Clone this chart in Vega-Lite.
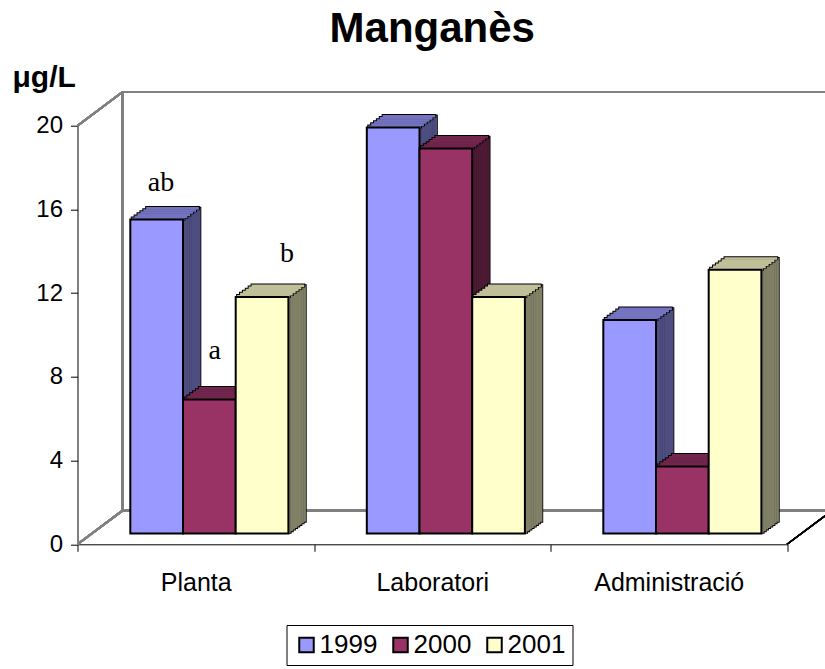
{
  "$schema": "https://vega.github.io/schema/vega-lite/v6.json",
  "width": 709.5,
  "height": 418.6,
  "autosize": {"type": "none"},
  "padding": {"left": 77.5, "top": 125.7, "right": 38, "bottom": 124.7},
  "background": "white",
  "title": {"text": "Manganès", "font": "Liberation Sans", "fontSize": 42, "fontWeight": "bold", "color": "black", "anchor": "middle", "dy": -8},
  "config": {"view": {"stroke": null}},
  "data": {"values": [
    {"zone": "Planta", "year": "1999", "value": 15.0, "label": "ab"},
    {"zone": "Planta", "year": "2000", "value": 6.4, "label": "a"},
    {"zone": "Planta", "year": "2001", "value": 11.3, "label": "b"},
    {"zone": "Laboratori", "year": "1999", "value": 19.4, "label": ""},
    {"zone": "Laboratori", "year": "2000", "value": 18.4, "label": ""},
    {"zone": "Laboratori", "year": "2001", "value": 11.3, "label": ""},
    {"zone": "Administració", "year": "1999", "value": 10.2, "label": ""},
    {"zone": "Administració", "year": "2000", "value": 3.2, "label": ""},
    {"zone": "Administració", "year": "2001", "value": 12.6, "label": ""}
  ]},
  "resolve": {"scale": {"color": "independent", "xOffset": "independent"}},
  "layer": [
    {"mark": {"type": "rule", "color": "#808080", "strokeWidth": 2, "xOffset": 45, "x2Offset": 38.5, "yOffset": -33.7, "y2Offset": -33.7}, "encoding": {"x": {"datum": "Planta", "type": "nominal", "bandPosition": 0}, "x2": {"datum": "Administració", "bandPosition": 1}, "y": {"datum": 20, "type": "quantitative"}, "y2": {"datum": 20}}},
    {"mark": {"type": "rule", "color": "#808080", "strokeWidth": 2, "xOffset": 45, "x2Offset": 38.5, "yOffset": -33.7, "y2Offset": -33.7}, "encoding": {"x": {"datum": "Planta", "type": "nominal", "bandPosition": 0}, "x2": {"datum": "Administració", "bandPosition": 1}, "y": {"datum": 0, "type": "quantitative"}, "y2": {"datum": 0}}},
    {"mark": {"type": "rule", "color": "#808080", "strokeWidth": 2, "xOffset": 45, "yOffset": -33.7, "y2Offset": -33.7}, "encoding": {"x": {"datum": "Planta", "type": "nominal", "bandPosition": 0}, "y": {"datum": 0, "type": "quantitative"}, "y2": {"datum": 20}}},
    {"mark": {"type": "rule", "color": "#808080", "strokeWidth": 2, "x2Offset": 45, "y2Offset": -33.7}, "encoding": {"x": {"datum": "Planta", "type": "nominal", "bandPosition": 0}, "x2": {"datum": "Planta", "bandPosition": 0}, "y": {"datum": 20, "type": "quantitative"}, "y2": {"datum": 20}}},
    {"mark": {"type": "rule", "color": "#808080", "strokeWidth": 2, "x2Offset": 45, "y2Offset": -33.7}, "encoding": {"x": {"datum": "Planta", "type": "nominal", "bandPosition": 0}, "x2": {"datum": "Planta", "bandPosition": 0}, "y": {"datum": 0, "type": "quantitative"}, "y2": {"datum": 0}}},
    {"mark": {"type": "rule", "color": "black", "strokeWidth": 1.3, "x2Offset": 45, "y2Offset": -33.7}, "encoding": {"x": {"datum": "Administració", "type": "nominal", "bandPosition": 1}, "x2": {"datum": "Administració", "bandPosition": 1}, "y": {"datum": 0, "type": "quantitative"}, "y2": {"datum": 0}}},
    {
      "encoding": {
        "x": {"field": "zone", "type": "nominal", "scale": {"domain": ["Planta", "Laboratori", "Administració"], "paddingInner": 0, "paddingOuter": 0},
              "axis": {"title": null, "labelAngle": 0, "labelAlign": "center", "tickBand": "extent", "tickSize": 7, "tickColor": "black", "domainColor": "black", "labelFont": "Liberation Sans", "labelFontSize": 25, "labelColor": "black", "labelBaseline": "alphabetic", "labelPadding": 38.7}},
        "y": {"field": "value", "type": "quantitative", "scale": {"domain": [0, 20], "nice": false},
              "axis": {"title": "μg/L", "titleAngle": 0, "titleAlign": "left", "titleBaseline": "alphabetic", "titleX": -65.5, "titleY": -39, "titleFont": "Liberation Sans", "titleFontSize": 30, "titleFontWeight": "bold", "titleColor": "black", "values": [0, 4, 8, 12, 16, 20], "grid": false, "domainColor": "black", "tickColor": "black", "tickSize": 7, "labelFont": "Liberation Sans", "labelFontSize": 24, "labelColor": "black", "labelPadding": 8}}
      },
      "resolve": {"scale": {"color": "independent", "xOffset": "independent"}},
      "layer": [
        {"encoding": {"y2": {"datum": 0}}, "resolve": {"scale": {"xOffset": "independent"}}, "layer": [
          {"mark": {"type": "bar", "color": "black", "width": 4.2, "yOffset": -12.58, "y2Offset": -10.58}, "encoding": {"xOffset": {"field": "year", "type": "nominal", "scale": {"domain": ["1999", "2000", "2001"], "paddingInner": 0, "paddingOuter": 0.744, "range": [41.03, 277.53]}}}},
          {"mark": {"type": "bar", "color": "black", "width": 4.2, "yOffset": -14.14, "y2Offset": -12.14}, "encoding": {"xOffset": {"field": "year", "type": "nominal", "scale": {"domain": ["1999", "2000", "2001"], "paddingInner": 0, "paddingOuter": 0.744, "range": [43.19, 279.69]}}}},
          {"mark": {"type": "bar", "color": "black", "width": 4.2, "yOffset": -15.71, "y2Offset": -13.71}, "encoding": {"xOffset": {"field": "year", "type": "nominal", "scale": {"domain": ["1999", "2000", "2001"], "paddingInner": 0, "paddingOuter": 0.744, "range": [45.36, 281.86]}}}},
          {"mark": {"type": "bar", "color": "black", "width": 4.2, "yOffset": -17.27, "y2Offset": -15.27}, "encoding": {"xOffset": {"field": "year", "type": "nominal", "scale": {"domain": ["1999", "2000", "2001"], "paddingInner": 0, "paddingOuter": 0.744, "range": [47.52, 284.02]}}}},
          {"mark": {"type": "bar", "color": "black", "width": 4.2, "yOffset": -18.83, "y2Offset": -16.83}, "encoding": {"xOffset": {"field": "year", "type": "nominal", "scale": {"domain": ["1999", "2000", "2001"], "paddingInner": 0, "paddingOuter": 0.744, "range": [49.68, 286.18]}}}},
          {"mark": {"type": "bar", "color": "black", "width": 4.2, "yOffset": -20.39, "y2Offset": -18.39}, "encoding": {"xOffset": {"field": "year", "type": "nominal", "scale": {"domain": ["1999", "2000", "2001"], "paddingInner": 0, "paddingOuter": 0.744, "range": [51.84, 288.34]}}}},
          {"mark": {"type": "bar", "color": "black", "width": 4.2, "yOffset": -21.96, "y2Offset": -19.96}, "encoding": {"xOffset": {"field": "year", "type": "nominal", "scale": {"domain": ["1999", "2000", "2001"], "paddingInner": 0, "paddingOuter": 0.744, "range": [54.01, 290.51]}}}},
          {"mark": {"type": "bar", "color": "black", "width": 4.2, "yOffset": -23.52, "y2Offset": -21.52}, "encoding": {"xOffset": {"field": "year", "type": "nominal", "scale": {"domain": ["1999", "2000", "2001"], "paddingInner": 0, "paddingOuter": 0.744, "range": [56.17, 292.67]}}}}
        ]},
        {"encoding": {"y2": {"datum": 0}, "color": {"field": "year", "type": "nominal", "scale": {"domain": ["1999", "2000", "2001"], "range": ["#4D4D80", "#4D1A33", "#808066"]}, "legend": null}}, "resolve": {"scale": {"xOffset": "independent"}}, "layer": [
          {"mark": {"type": "bar", "width": 2.6, "yOffset": -11.58, "y2Offset": -11.58}, "encoding": {"xOffset": {"field": "year", "type": "nominal", "scale": {"domain": ["1999", "2000", "2001"], "paddingInner": 0, "paddingOuter": 0.744, "range": [41.03, 277.53]}}}},
          {"mark": {"type": "bar", "width": 2.6, "yOffset": -13.14, "y2Offset": -13.14}, "encoding": {"xOffset": {"field": "year", "type": "nominal", "scale": {"domain": ["1999", "2000", "2001"], "paddingInner": 0, "paddingOuter": 0.744, "range": [43.19, 279.69]}}}},
          {"mark": {"type": "bar", "width": 2.6, "yOffset": -14.71, "y2Offset": -14.71}, "encoding": {"xOffset": {"field": "year", "type": "nominal", "scale": {"domain": ["1999", "2000", "2001"], "paddingInner": 0, "paddingOuter": 0.744, "range": [45.36, 281.86]}}}},
          {"mark": {"type": "bar", "width": 2.6, "yOffset": -16.27, "y2Offset": -16.27}, "encoding": {"xOffset": {"field": "year", "type": "nominal", "scale": {"domain": ["1999", "2000", "2001"], "paddingInner": 0, "paddingOuter": 0.744, "range": [47.52, 284.02]}}}},
          {"mark": {"type": "bar", "width": 2.6, "yOffset": -17.83, "y2Offset": -17.83}, "encoding": {"xOffset": {"field": "year", "type": "nominal", "scale": {"domain": ["1999", "2000", "2001"], "paddingInner": 0, "paddingOuter": 0.744, "range": [49.68, 286.18]}}}},
          {"mark": {"type": "bar", "width": 2.6, "yOffset": -19.39, "y2Offset": -19.39}, "encoding": {"xOffset": {"field": "year", "type": "nominal", "scale": {"domain": ["1999", "2000", "2001"], "paddingInner": 0, "paddingOuter": 0.744, "range": [51.84, 288.34]}}}},
          {"mark": {"type": "bar", "width": 2.6, "yOffset": -20.96, "y2Offset": -20.96}, "encoding": {"xOffset": {"field": "year", "type": "nominal", "scale": {"domain": ["1999", "2000", "2001"], "paddingInner": 0, "paddingOuter": 0.744, "range": [54.01, 290.51]}}}},
          {"mark": {"type": "bar", "width": 2.6, "yOffset": -22.52, "y2Offset": -22.52}, "encoding": {"xOffset": {"field": "year", "type": "nominal", "scale": {"domain": ["1999", "2000", "2001"], "paddingInner": 0, "paddingOuter": 0.744, "range": [56.17, 292.67]}}}}
        ]},
        {"encoding": {"y2": {"field": "value"}}, "resolve": {"scale": {"xOffset": "independent"}}, "layer": [
          {"mark": {"type": "bar", "color": "black", "width": 54.7, "yOffset": -13.88, "y2Offset": -9.8}, "encoding": {"xOffset": {"field": "year", "type": "nominal", "scale": {"domain": ["1999", "2000", "2001"], "paddingInner": 0, "paddingOuter": 0.744, "range": [15.04, 251.54]}}}},
          {"mark": {"type": "bar", "color": "black", "width": 54.7, "yOffset": -15.97, "y2Offset": -11.88}, "encoding": {"xOffset": {"field": "year", "type": "nominal", "scale": {"domain": ["1999", "2000", "2001"], "paddingInner": 0, "paddingOuter": 0.744, "range": [17.93, 254.43]}}}},
          {"mark": {"type": "bar", "color": "black", "width": 54.7, "yOffset": -18.05, "y2Offset": -13.97}, "encoding": {"xOffset": {"field": "year", "type": "nominal", "scale": {"domain": ["1999", "2000", "2001"], "paddingInner": 0, "paddingOuter": 0.744, "range": [20.81, 257.31]}}}},
          {"mark": {"type": "bar", "color": "black", "width": 54.7, "yOffset": -20.13, "y2Offset": -16.05}, "encoding": {"xOffset": {"field": "year", "type": "nominal", "scale": {"domain": ["1999", "2000", "2001"], "paddingInner": 0, "paddingOuter": 0.744, "range": [23.69, 260.19]}}}},
          {"mark": {"type": "bar", "color": "black", "width": 54.7, "yOffset": -22.22, "y2Offset": -18.13}, "encoding": {"xOffset": {"field": "year", "type": "nominal", "scale": {"domain": ["1999", "2000", "2001"], "paddingInner": 0, "paddingOuter": 0.744, "range": [26.58, 263.08]}}}},
          {"mark": {"type": "bar", "color": "black", "width": 54.7, "yOffset": -24.3, "y2Offset": -20.22}, "encoding": {"xOffset": {"field": "year", "type": "nominal", "scale": {"domain": ["1999", "2000", "2001"], "paddingInner": 0, "paddingOuter": 0.744, "range": [29.46, 265.96]}}}}
        ]},
        {"encoding": {"y2": {"field": "value"}, "color": {"field": "year", "type": "nominal", "scale": {"domain": ["1999", "2000", "2001"], "range": ["#7373BF", "#73264D", "#BFBF99"]}, "legend": null}}, "resolve": {"scale": {"xOffset": "independent"}}, "layer": [
          {"mark": {"type": "bar", "width": 52.7, "yOffset": -12.88, "y2Offset": -10.3}, "encoding": {"xOffset": {"field": "year", "type": "nominal", "scale": {"domain": ["1999", "2000", "2001"], "paddingInner": 0, "paddingOuter": 0.744, "range": [15.04, 251.54]}}}},
          {"mark": {"type": "bar", "width": 52.7, "yOffset": -14.97, "y2Offset": -12.38}, "encoding": {"xOffset": {"field": "year", "type": "nominal", "scale": {"domain": ["1999", "2000", "2001"], "paddingInner": 0, "paddingOuter": 0.744, "range": [17.93, 254.43]}}}},
          {"mark": {"type": "bar", "width": 52.7, "yOffset": -17.05, "y2Offset": -14.47}, "encoding": {"xOffset": {"field": "year", "type": "nominal", "scale": {"domain": ["1999", "2000", "2001"], "paddingInner": 0, "paddingOuter": 0.744, "range": [20.81, 257.31]}}}},
          {"mark": {"type": "bar", "width": 52.7, "yOffset": -19.13, "y2Offset": -16.55}, "encoding": {"xOffset": {"field": "year", "type": "nominal", "scale": {"domain": ["1999", "2000", "2001"], "paddingInner": 0, "paddingOuter": 0.744, "range": [23.69, 260.19]}}}},
          {"mark": {"type": "bar", "width": 52.7, "yOffset": -21.22, "y2Offset": -18.63}, "encoding": {"xOffset": {"field": "year", "type": "nominal", "scale": {"domain": ["1999", "2000", "2001"], "paddingInner": 0, "paddingOuter": 0.744, "range": [26.58, 263.08]}}}},
          {"mark": {"type": "bar", "width": 52.7, "yOffset": -23.3, "y2Offset": -20.72}, "encoding": {"xOffset": {"field": "year", "type": "nominal", "scale": {"domain": ["1999", "2000", "2001"], "paddingInner": 0, "paddingOuter": 0.744, "range": [29.46, 265.96]}}}}
        ]},
        {"mark": {"type": "bar", "stroke": "black", "strokeWidth": 2, "yOffset": -10.8, "y2Offset": -10.8},
         "encoding": {"y2": {"datum": 0},
           "xOffset": {"field": "year", "type": "nominal", "scale": {"domain": ["1999", "2000", "2001"], "paddingInner": 0, "paddingOuter": 0.744, "range": [13.6, 250.1]}},
           "color": {"field": "year", "type": "nominal", "scale": {"domain": ["1999", "2000", "2001"], "range": ["#9999FF", "#993366", "#FFFFCC"]},
             "legend": {"title": null, "orient": "none", "legendX": 209, "legendY": 499.3, "direction": "horizontal", "strokeColor": "black", "padding": 7, "symbolType": "square", "symbolSize": 210, "symbolStrokeColor": "black", "symbolStrokeWidth": 2, "symbolOpacity": 1, "labelFont": "Liberation Sans", "labelFontSize": 26, "labelColor": "black", "labelOffset": 0, "columnPadding": 10}}}},
        {"transform": [{"filter": "datum.label != ''"}], "encoding": {"xOffset": {"field": "year", "type": "nominal", "scale": {"type": "band", "domain": ["1999", "2000", "2001"], "paddingInner": 0, "paddingOuter": 0.744}}}, "layer": [
          {"transform": [{"filter": "datum.label == 'ab'"}], "mark": {"type": "text", "font": "Liberation Serif", "fontSize": 28, "color": "black", "align": "center", "baseline": "alphabetic", "dx": 17.95, "dy": -39.65}, "encoding": {"text": {"field": "label"}}},
          {"transform": [{"filter": "datum.label == 'a'"}], "mark": {"type": "text", "font": "Liberation Serif", "fontSize": 28, "color": "black", "align": "center", "baseline": "alphabetic", "dx": 18.95, "dy": -51.35}, "encoding": {"text": {"field": "label"}}},
          {"transform": [{"filter": "datum.label == 'b'"}], "mark": {"type": "text", "font": "Liberation Serif", "fontSize": 28, "color": "black", "align": "center", "baseline": "alphabetic", "dx": 38.55, "dy": -46.1}, "encoding": {"text": {"field": "label"}}}
        ]}
      ]
    }
  ]
}
